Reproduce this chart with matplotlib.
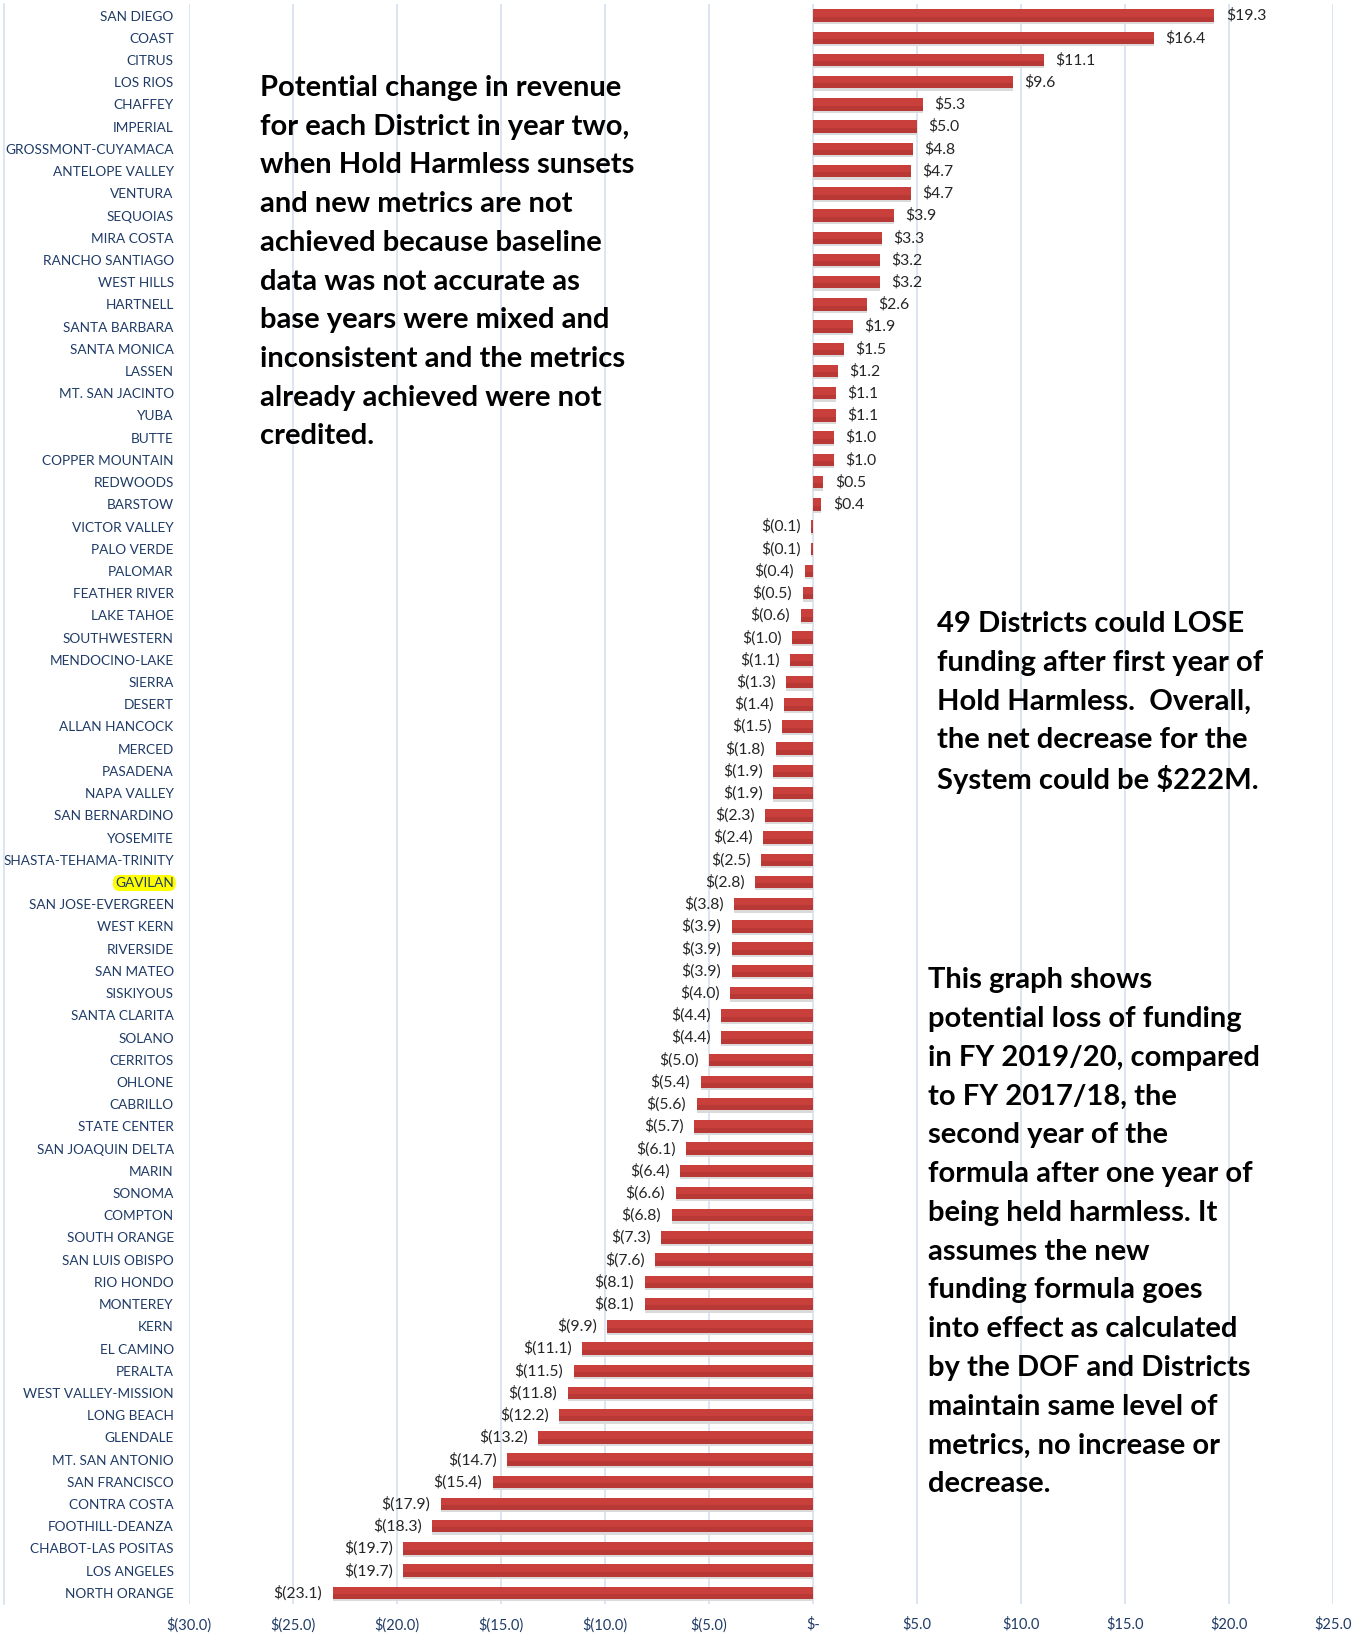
import matplotlib
matplotlib.use("Agg")
import matplotlib.pyplot as plt
from matplotlib.lines import Line2D
import numpy as np

districts = ["SAN DIEGO", "COAST", "CITRUS", "LOS RIOS", "CHAFFEY", "IMPERIAL",
             "GROSSMONT-CUYAMACA", "ANTELOPE VALLEY", "VENTURA", "SEQUOIAS", "MIRA COSTA",
             "RANCHO SANTIAGO", "WEST HILLS", "HARTNELL", "SANTA BARBARA", "SANTA MONICA",
             "LASSEN", "MT. SAN JACINTO", "YUBA", "BUTTE", "COPPER MOUNTAIN", "REDWOODS",
             "BARSTOW", "VICTOR VALLEY", "PALO VERDE", "PALOMAR", "FEATHER RIVER",
             "LAKE TAHOE", "SOUTHWESTERN", "MENDOCINO-LAKE", "SIERRA", "DESERT",
             "ALLAN HANCOCK", "MERCED", "PASADENA", "NAPA VALLEY", "SAN BERNARDINO",
             "YOSEMITE", "SHASTA-TEHAMA-TRINITY", "GAVILAN", "SAN JOSE-EVERGREEN",
             "WEST KERN", "RIVERSIDE", "SAN MATEO", "SISKIYOUS", "SANTA CLARITA", "SOLANO",
             "CERRITOS", "OHLONE", "CABRILLO", "STATE CENTER", "SAN JOAQUIN DELTA", "MARIN",
             "SONOMA", "COMPTON", "SOUTH ORANGE", "SAN LUIS OBISPO", "RIO HONDO", "MONTEREY",
             "KERN", "EL CAMINO", "PERALTA", "WEST VALLEY-MISSION", "LONG BEACH", "GLENDALE",
             "MT. SAN ANTONIO", "SAN FRANCISCO", "CONTRA COSTA", "FOOTHILL-DEANZA",
             "CHABOT-LAS POSITAS", "LOS ANGELES", "NORTH ORANGE"]

change = [19.3, 16.4, 11.1, 9.6, 5.3, 5.0, 4.8, 4.7, 4.7, 3.9, 3.3, 3.2, 3.2, 2.6, 1.9,
          1.5, 1.2, 1.1, 1.1, 1.0, 1.0, 0.5, 0.4, -0.1, -0.1, -0.4, -0.5, -0.6, -1.0,
          -1.1, -1.3, -1.4, -1.5, -1.8, -1.9, -1.9, -2.3, -2.4, -2.5, -2.8, -3.8, -3.9,
          -3.9, -3.9, -4.0, -4.4, -4.4, -5.0, -5.4, -5.6, -5.7, -6.1, -6.4, -6.6, -6.8,
          -7.3, -7.6, -8.1, -8.1, -9.9, -11.1, -11.5, -11.8, -12.2, -13.2, -14.7, -15.4,
          -17.9, -18.3, -19.7, -19.7, -23.1]

highlight = "GAVILAN"

xticks = [-30, -25, -20, -15, -10, -5, 0, 5, 10, 15, 20, 25]

text_block1 = ["Potential change in revenue", "for each District in year two,",
               "when Hold Harmless sunsets", "and new metrics are not",
               "achieved because baseline", "data was not accurate as",
               "base years were mixed and", "inconsistent and the metrics",
               "already achieved were not", "credited."]
text_block2 = ["49 Districts could LOSE", "funding after first year of",
               "Hold Harmless.  Overall,", "the net decrease for the",
               "System could be $222M."]
text_block3 = ["This graph shows", "potential loss of funding",
               "in FY 2019/20, compared", "to FY 2017/18, the",
               "second year of the", "formula after one year of",
               "being held harmless. It", "assumes the new",
               "funding formula goes", "into effect as calculated",
               "by the DOF and Districts", "maintain same level of",
               "metrics, no increase or", "decrease."]


def money(v):
    if abs(v) < 1e-9:
        return "$-"
    if v < 0:
        return "$({:.1f})".format(-v)
    return "${:.1f}".format(v)


plt.rcParams['font.family'] = ['Lato', 'DejaVu Sans']

W, H = 1366, 1635
fig = plt.figure(figsize=(W / 100, H / 100), dpi=100)
fig.patch.set_facecolor("white")

ax_left, ax_right = 189 / W, 1333 / W
ax_top, ax_bot = 1 - 4.5 / H, 1 - 1604 / H
ax = fig.add_axes([ax_left, ax_bot, ax_right - ax_left, ax_top - ax_bot])

y = np.arange(len(districts))
bar_h = 0.56
bar_color = "#c93f3c"
shadow_color = "#dadada"
# soft shadow
ax.barh(y + 0.1, change, height=bar_h, left=0, color=shadow_color, zorder=2)
ax.barh(y, change, height=bar_h, color=bar_color, zorder=3)
# darker lower band for shading
ax.barh(y + bar_h * 0.3, change, height=bar_h * 0.4, color="#a83331", zorder=4, alpha=0.5)

for yi, v in zip(y, change):
    if v >= 0:
        ax.text(v + 0.55, yi, money(v), ha="left", va="center", fontsize=11.3,
                color="#262626", zorder=5)
    else:
        ax.text(v - 0.5, yi, money(v), ha="right", va="center", fontsize=11.3,
                color="#262626", zorder=5)

ax.set_xlim(-30, 25)
ax.set_ylim(len(districts) - 0.5, -0.5)
ax.set_xticks(xticks)
ax.set_xticklabels([money(t) for t in xticks], fontsize=10.5, color="#1f3b66")
ax.set_yticks(y)
ax.set_yticklabels(districts, fontsize=9.8, color="#1f3b66")
ax.tick_params(axis="both", length=0)
ax.tick_params(axis="y", pad=11)
ax.tick_params(axis="x", pad=9.5)
for s in ax.spines.values():
    s.set_visible(False)
ax.xaxis.grid(True, color="#d6e2f0", linewidth=1.2, zorder=0)
ax.set_axisbelow(True)

for lbl in ax.get_yticklabels():
    if lbl.get_text() == highlight:
        lbl.set_bbox(dict(boxstyle="round,pad=0.15,rounding_size=0.5",
                          facecolor="#ffff00", edgecolor="none"))

# chart outer left border
fig.add_artist(Line2D([4 / W, 4 / W], [ax_bot, ax_top], color="#d6e2f0",
                      linewidth=1.2, transform=fig.transFigure))


def block(lines, x_px, y0_px, step_px):
    for i, line in enumerate(lines):
        fig.text(x_px / W, 1 - (y0_px + i * step_px) / H, line, ha="left",
                 va="center", fontsize=21, fontweight="bold", color="black")


block(text_block1, 260, 88, 38.7)
block(text_block2, 937, 624, 38.8)
block(text_block3, 928, 980, 38.8)

fig.savefig("out.png", dpi=100)
